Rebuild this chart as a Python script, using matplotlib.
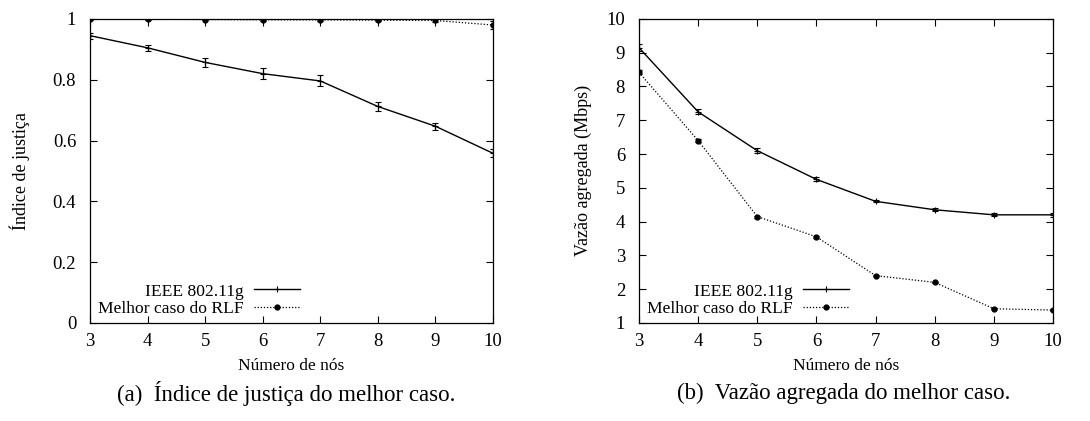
import numpy as np
import matplotlib
matplotlib.use("Agg")
import matplotlib.pyplot as plt

plt.rcParams['font.family'] = ['Liberation Serif', 'DejaVu Serif']
plt.rcParams['mathtext.fontset'] = 'stix'

# numero de nos
nodes = [3, 4, 5, 6, 7, 8, 9, 10]

# (a) indice de justica
fair_ieee = [0.945, 0.905, 0.857, 0.820, 0.796, 0.712, 0.647, 0.558]
fair_ieee_err = [0.010, 0.010, 0.015, 0.017, 0.018, 0.015, 0.012, 0.013]
fair_rlf = [1.0, 0.999, 0.998, 0.997, 0.997, 0.996, 0.995, 0.980]
fair_rlf_err = [0.002, 0.002, 0.002, 0.003, 0.003, 0.003, 0.004, 0.012]

# (b) vazao agregada
thr_ieee = [9.15, 7.25, 6.10, 5.25, 4.60, 4.35, 4.20, 4.20]
thr_ieee_err = [0.10, 0.07, 0.07, 0.06, 0.03, 0.04, 0.04, 0.05]
thr_rlf = [8.42, 6.40, 4.15, 3.55, 2.40, 2.20, 1.42, 1.38]
thr_rlf_err = [0.06, 0.04, 0.03, 0.03, 0.02, 0.02, 0.02, 0.02]

lab_ieee = 'IEEE 802.11g'
lab_rlf = 'Melhor caso do RLF'

fig = plt.figure(figsize=(10.9, 4.21), dpi=100)
ax1 = fig.add_axes([0.0826, 0.233, 0.3697, 0.722])
ax2 = fig.add_axes([0.5862, 0.233, 0.3798, 0.722])


def draw(ax, y1, e1, y2, e2):
    ax.errorbar(nodes, y1, yerr=e1, color='black', lw=1.0, marker='+',
                markersize=5, mew=0.8, capsize=2.5, elinewidth=0.9,
                capthick=0.9, label=lab_ieee)
    ax.errorbar(nodes, y2, yerr=e2, color='black', lw=0.9, ls=(0, (1, 1.5)),
                marker='o', markersize=3.5, capsize=2.5, elinewidth=0.9,
                capthick=0.9, label=lab_rlf)
    ax.set_xlim(3, 10)
    ax.set_xticks(nodes)
    ax.tick_params(axis='both', direction='in', length=5, labelsize=13.5,
                   top=True, right=True, width=0.8)
    ax.tick_params(axis='x', pad=7)
    ax.tick_params(axis='y', pad=10)
    for s in ax.spines.values():
        s.set_linewidth(0.9)
    ax.set_xlabel('Número de nós', fontsize=12.5, labelpad=6)
    h, l = ax.get_legend_handles_labels()
    h = [x[0] for x in h]
    ax.legend(h, l, loc='lower left', bbox_to_anchor=(-0.01, -0.02),
              markerfirst=False, frameon=False, fontsize=12.6,
              handlelength=2.6, handletextpad=0.6, labelspacing=0.05,
              borderaxespad=0.3)


draw(ax1, fair_ieee, fair_ieee_err, fair_rlf, fair_rlf_err)
ax1.set_ylim(0, 1)
ax1.set_yticks([0, 0.2, 0.4, 0.6, 0.8, 1])
ax1.set_yticklabels(['0', '0.2', '0.4', '0.6', '0.8', '1'])
ax1.set_ylabel('Índice de justiça', fontsize=13, labelpad=16)

draw(ax2, thr_ieee, thr_ieee_err, thr_rlf, thr_rlf_err)
ax2.set_ylim(1, 10)
ax2.set_yticks(range(1, 11))
ax2.set_ylabel('Vazão agregada (Mbps)', fontsize=13, labelpad=10)

fig.text(0.263, 0.066, '(a)  Índice de justiça do melhor caso.',
         ha='center', va='center', fontsize=16.5)
fig.text(0.774, 0.066, '(b)  Vazão agregada do melhor caso.',
         ha='center', va='center', fontsize=16.5)

fig.savefig('out.png', dpi=100)
